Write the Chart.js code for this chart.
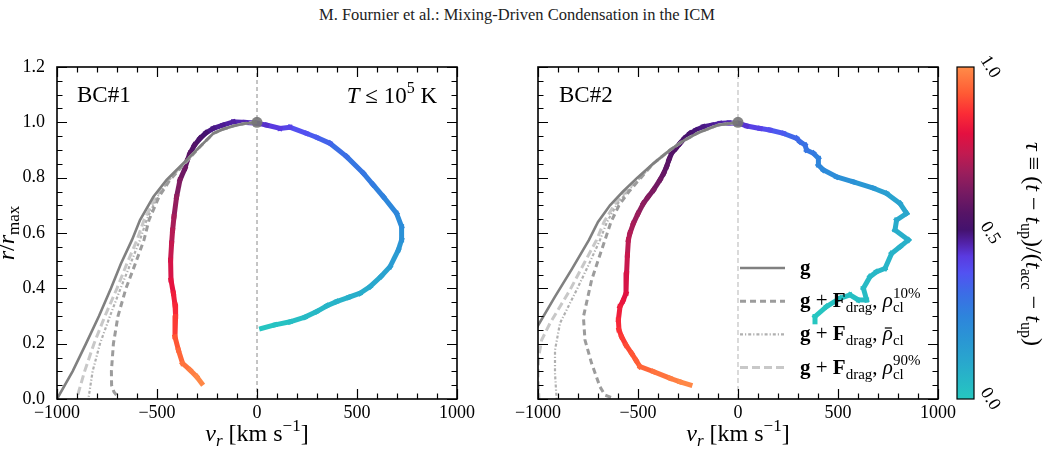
<!DOCTYPE html>
<html><head><meta charset="utf-8">
<script src="https://cdn.jsdelivr.net/npm/chart.js@4.4.1/dist/chart.umd.min.js"></script>
<style>
html,body{margin:0;padding:0;background:#fff;width:1045px;height:452px;overflow:hidden;}
#title{position:absolute;left:0;width:1034px;top:7px;text-align:center;font:16.5px/16.5px "Liberation Serif",serif;color:#222;white-space:nowrap;}
canvas{position:absolute;left:0;top:0;}
</style></head><body>
<div id="title">M. Fournier et al.: Mixing-Driven Condensation in the ICM</div>
<canvas id="c1" width="1045" height="452"></canvas>
<canvas id="c2" width="1045" height="452"></canvas>
<script>
// ---------- tick labels ----------
const xTickValues = [-1000, -500, 0, 500, 1000];
const yTickValues = [0, 0.2, 0.4, 0.6, 0.8, 1.0, 1.2];
const cbarTickValues = [0, 0.5, 1.0];

// ---------- reference marks ----------
const zeroVr = [0, 0];
const zeroR = [0, 1.2];
const apexVr = [0];
const apexR = [1.0];

// ---------- BC#1 trajectory (T <= 1e5 K) ----------
const bc1Vr = [23,90,165,240,298,350,398,460,515,565,620,665,707,723,723,698,632,580,532,448,365,300,248,165,115,48,0,
  -60,-118,-170,-218,-255,-285,-312,-335,-350,-360,-385,-402,-415,-422,-427,-432,-430,-418,-410,-407,-410,-393,-372,-335,-302,-277];
const bc1R = [0.255,0.268,0.279,0.296,0.316,0.337,0.352,0.368,0.382,0.406,0.443,0.478,0.539,0.575,0.623,0.671,0.731,0.775,0.816,0.876,0.924,0.945,0.960,0.982,0.978,0.990,0.997,
  1.0,1.002,0.99,0.978,0.962,0.942,0.918,0.888,0.86,0.834,0.792,0.731,0.659,0.61,0.563,0.502,0.430,0.382,0.34,0.298,0.225,0.177,0.129,0.105,0.081,0.057];
const bc1Tau = [0,0.012,0.025,0.04,0.05,0.06,0.07,0.08,0.09,0.10,0.12,0.14,0.17,0.19,0.21,0.23,0.25,0.27,0.28,0.30,0.33,0.35,0.37,0.40,0.42,0.44,0.45,
  0.46,0.47,0.48,0.49,0.50,0.52,0.54,0.56,0.58,0.59,0.62,0.65,0.69,0.71,0.73,0.76,0.79,0.82,0.84,0.86,0.90,0.93,0.95,0.97,0.985,1.0];

// ---------- BC#2 trajectory ----------
const bc2Vr = [385,385,443,510,560,602,643,627,660,693,735,768,810,852,785,793,843,810,743,677,577,493,427,402,402,377,343,335,310,293,227,160,110,43,5,
  -45,-90,-130,-173,-210,-240,-268,-290,-312,-332,-345,-357,-372,-390,-423,-450,-473,-500,-523,-540,-548,-553,-557,-560,-575,-590,-598,-595,-582,-560,-532,-510,-490,-423,-340,-290,-240];
const bc2R = [0.279,0.298,0.334,0.364,0.376,0.358,0.358,0.400,0.442,0.460,0.472,0.526,0.550,0.575,0.611,0.647,0.671,0.707,0.743,0.762,0.785,0.803,0.828,0.846,0.870,0.888,0.900,0.918,0.930,0.942,0.960,0.972,0.978,0.987,0.996,
  0.998,0.996,0.99,0.984,0.972,0.960,0.942,0.924,0.905,0.888,0.865,0.840,0.815,0.792,0.755,0.73,0.707,0.67,0.635,0.60,0.575,0.52,0.454,0.382,0.355,0.334,0.286,0.25,0.225,0.195,0.165,0.14,0.117,0.099,0.075,0.062,0.051];
const bc2Tau = [0,0.005,0.01,0.02,0.025,0.03,0.035,0.04,0.05,0.055,0.06,0.07,0.075,0.08,0.09,0.10,0.11,0.12,0.14,0.16,0.19,0.21,0.23,0.24,0.25,0.27,0.29,0.30,0.31,0.32,0.35,0.38,0.40,0.43,0.45,
  0.46,0.47,0.48,0.49,0.50,0.51,0.52,0.53,0.54,0.55,0.56,0.57,0.58,0.60,0.62,0.64,0.65,0.67,0.69,0.71,0.72,0.74,0.76,0.79,0.80,0.82,0.84,0.86,0.87,0.89,0.91,0.92,0.93,0.95,0.97,0.985,1.0];

// ---------- panel 1 comparison curves ----------
const p1gVr = [0,-60,-118,-170,-218,-285,-368,-452,-518,-585,-625,-680,-730,-790,-855,-922,-1000];
const p1gR = [1.0,0.996,0.987,0.975,0.96,0.912,0.852,0.792,0.731,0.647,0.575,0.49,0.40,0.30,0.20,0.10,0.0];
const p1g90Vr = [0,-60,-118,-170,-218,-285,-365,-445,-505,-565,-600,-650,-700,-760,-815,-862,-902];
const p1g90R = [1.0,0.996,0.987,0.975,0.96,0.912,0.852,0.792,0.731,0.647,0.575,0.49,0.40,0.30,0.20,0.10,0.0];
const p1gMeanVr = [0,-60,-118,-170,-218,-285,-362,-440,-498,-552,-585,-632,-682,-735,-785,-822,-843];
const p1gMeanR = [1.0,0.996,0.987,0.975,0.96,0.912,0.852,0.792,0.731,0.647,0.575,0.49,0.40,0.30,0.20,0.10,0.0];
const p1g10Vr = [0,-60,-118,-170,-218,-285,-360,-435,-490,-540,-565,-608,-655,-695,-718,-728,-727,-715,-700];
const p1g10R = [1.0,0.996,0.987,0.975,0.96,0.912,0.852,0.792,0.731,0.647,0.575,0.49,0.40,0.30,0.20,0.10,0.05,0.025,0.012];

// ---------- panel 2 comparison curves ----------
const p2gVr = [0,-100,-200,-280,-340,-425,-503,-575,-640,-700,-745,-830,-915,-1000,-1040];
const p2gR = [1.0,0.99,0.962,0.93,0.9,0.85,0.8,0.75,0.7,0.64,0.575,0.47,0.37,0.265,0.215];
const p2g90Vr = [0,-100,-200,-280,-340,-425,-495,-560,-620,-670,-707,-770,-840,-940,-982,-997,-1000,-995];
const p2g90R = [1.0,0.99,0.962,0.93,0.9,0.85,0.8,0.75,0.7,0.64,0.575,0.49,0.394,0.274,0.213,0.15,0.08,0.0];
const p2gMeanVr = [0,-100,-200,-280,-340,-425,-490,-553,-608,-655,-690,-750,-807,-890,-915,-915,-907];
const p2gMeanR = [1.0,0.99,0.962,0.93,0.9,0.85,0.8,0.75,0.7,0.64,0.575,0.48,0.394,0.274,0.177,0.093,0.0];
const p2g10Vr = [0,-100,-200,-280,-340,-425,-485,-545,-595,-635,-665,-700,-732,-773,-765,-732,-690,-665,-623];
const p2g10R = [1.0,0.99,0.962,0.93,0.9,0.85,0.8,0.75,0.7,0.64,0.575,0.5,0.43,0.297,0.213,0.129,0.044,0.014,0.003];

// ---------- colormap ----------
const cmapStops = [
  [0.00,'#26c7c0'],[0.06,'#27b6c7'],[0.12,'#29a5ce'],[0.18,'#2a96d4'],[0.25,'#2e84dc'],
  [0.32,'#3c6ce6'],[0.38,'#5252f2'],[0.43,'#5a3ae0'],[0.47,'#5222a8'],[0.51,'#44126e'],
  [0.56,'#561466'],[0.62,'#761a62'],[0.68,'#9a1e5c'],[0.74,'#c21a50'],[0.80,'#e41040'],
  [0.86,'#fb2c36'],[0.92,'#ff5a34'],[1.00,'#ff8c48']];
function hex2rgb(h){return [1,3,5].map(i=>parseInt(h.substr(i,2),16));}
function cmap(t){
  t = Math.max(0, Math.min(1, t));
  for (let i=1;i<cmapStops.length;i++){
    if (t <= cmapStops[i][0]){
      const [t0,c0]=cmapStops[i-1],[t1,c1]=cmapStops[i];
      const u=(t-t0)/(t1-t0), a=hex2rgb(c0), b=hex2rgb(c1);
      return 'rgb('+a.map((v,k)=>Math.round(v+(b[k]-v)*u)).join(',')+')';
    }
  }
  return cmapStops[cmapStops.length-1][1];
}

const SERIF = "'Liberation Serif','Times New Roman',serif";
function F(size, style, weight){ return (style||'')+' '+(weight||'')+' '+size+'px '+SERIF; }

function rich(ctx, x, y, parts, align, rot){
  ctx.save();
  ctx.translate(x, y);
  if (rot) ctx.rotate(rot);
  ctx.textBaseline='alphabetic'; ctx.textAlign='left';
  let cur=0, last=0; const pl=[];
  for (const p of parts){
    ctx.font=p.f;
    const w=ctx.measureText(p.t).width;
    let px;
    if (p.back){ px=last; cur=Math.max(cur,last+w); }
    else { px=cur; last=cur; cur+=w; }
    pl.push([p,px,w]);
  }
  const off = align==='center' ? -cur/2 : (align==='right' ? -cur : 0);
  for (const [p,px,w] of pl){
    ctx.font=p.f; ctx.fillStyle=p.c||'#000';
    ctx.fillText(p.t, off+px, p.dy||0);
    if (p.bar) ctx.fillRect(off+px+2, (p.dy||0)-p.bar, w-3, 1.2);
  }
  ctx.restore();
}

function pts(vr, r){ return vr.map((v,i)=>({x:v, y:r[i]})); }

const grayStyles = {
  g:    {c:'#808080', w:2.6, d:[]},
  g10:  {c:'#9c9c9c', w:3.0, d:[6,4]},
  gMean:{c:'#b0b0b0', w:2.2, d:[3,2,1.2,2]},
  g90:  {c:'#c8c8c8', w:3.0, d:[8,4]}
};
function grayDs(key, vr, r, order){
  const s=grayStyles[key];
  return {label:key, data:pts(vr,r), showLine:true, pointRadius:0, borderColor:s.c, borderWidth:s.w, borderDash:s.d, fill:false, order:order};
}
function trajDs(vr, r, tau){
  return {label:'traj', data:pts(vr,r), showLine:true, pointRadius:0, borderWidth:5, borderColor:cmap(0.5),
    borderCapStyle:'square', borderJoinStyle:'round', fill:false, order:6,
    segment:{borderColor: c => cmap((tau[c.p0DataIndex]+tau[c.p1DataIndex])/2)}};
}

function framePlugin(){
  return {
    id:'frame',
    afterDatasetsDraw(chart){
      const {ctx, chartArea:a, scales:{x,y}} = chart;
      ctx.save();
      ctx.strokeStyle='#000'; ctx.lineWidth=1.2;
      ctx.beginPath();
      for (let k=-10;k<=10;k++){
        const px=Math.round(x.getPixelForValue(k*100))+0.5;
        const L=(k%5===0)?10:5.5;
        ctx.moveTo(px,a.bottom); ctx.lineTo(px,a.bottom-L);
        ctx.moveTo(px,a.top); ctx.lineTo(px,a.top+L);
      }
      for (let k=0;k<=24;k++){
        const py=Math.round(y.getPixelForValue(k*0.05))+0.5;
        const L=(k%4===0)?10:5.5;
        ctx.moveTo(a.left,py); ctx.lineTo(a.left+L,py);
        ctx.moveTo(a.right,py); ctx.lineTo(a.right-L,py);
      }
      ctx.stroke();
      ctx.lineWidth=1.6;
      ctx.strokeRect(a.left,a.top,a.right-a.left,a.bottom-a.top);
      ctx.restore();
    }
  };
}

function makeChart(id, datasets, yWidth, padRight, showY, extra){
  return new Chart(document.getElementById(id), {
    type:'scatter',
    data:{datasets:datasets},
    options:{
      responsive:false, animation:false, devicePixelRatio:1,
      layout:{padding:{left:0, top:67, right:padRight, bottom:0}},
      plugins:{legend:{display:false}, tooltip:{enabled:false}},
      scales:{
        x:{type:'linear', min:-1000, max:1000,
           afterBuildTicks:s=>{s.ticks=xTickValues.map(v=>({value:v}));},
           afterFit:s=>{s.height=53;},
           grid:{display:false}, border:{display:false},
           ticks:{autoSkip:false, maxRotation:0, padding:-5, color:'#000',
             font:{family:SERIF, size:18},
             callback:v=> v<0 ? '\u2212'+Math.abs(v) : String(v)}},
        y:{type:'linear', min:0, max:1.2,
           afterBuildTicks:s=>{s.ticks=yTickValues.map(v=>({value:v}));},
           afterFit:s=>{s.width=yWidth;},
           grid:{display:false}, border:{display:false},
           ticks:{display:showY, padding:4, color:'#000',
             font:{family:SERIF, size:18},
             callback:v=>Number(v).toFixed(1)}}
      }
    },
    plugins:[framePlugin(), extra]
  });
}

function xLabel(ctx, cx){
  rich(ctx, cx, 441, [
    {t:'v', f:F(24,'italic')},
    {t:'r', f:F(17,'italic'), dy:5},
    {t:' [km s', f:F(24)},
    {t:'\u22121', f:F(17), dy:-10},
    {t:']', f:F(24)}], 'center');
}

// ---------- panel 1 ----------
const ds1 = [
  {label:'zero', data:pts(zeroVr,zeroR), showLine:true, pointRadius:0, borderColor:'#8a8a8a', borderWidth:1, borderDash:[4,3], order:9},
  trajDs(bc1Vr, bc1R, bc1Tau),
  grayDs('g90', p1g90Vr, p1g90R, 5),
  grayDs('gMean', p1gMeanVr, p1gMeanR, 4),
  grayDs('g10', p1g10Vr, p1g10R, 3),
  grayDs('g', p1gVr, p1gR, 2),
  {label:'apex', data:pts(apexVr,apexR), showLine:false, pointRadius:5.5, backgroundColor:'rgba(118,118,118,0.9)', borderWidth:0, order:0}
];
makeChart('c1', ds1, 57, 588, true, {
  id:'text1',
  afterDraw(chart){
    const ctx=chart.ctx;
    rich(ctx, 77, 102, [{t:'BC#1', f:F(23)}], 'left');
    rich(ctx, 437, 103, [
      {t:'T', f:F(23,'italic')},
      {t:' \u2264 ', f:F(23)},
      {t:'10', f:F(23)},
      {t:'5', f:F(16), dy:-10},
      {t:' K', f:F(23)}], 'right');
    xLabel(ctx, 257);
    rich(ctx, 14, 233, [
      {t:'r', f:F(24,'italic')},
      {t:'/', f:F(24)},
      {t:'r', f:F(24,'italic')},
      {t:'max', f:F(17), dy:5}], 'center', -Math.PI/2);
  }
});

// ---------- panel 2 ----------
const ds2 = [
  {label:'zero', data:pts(zeroVr,zeroR), showLine:true, pointRadius:0, borderColor:'#c6c6c6', borderWidth:1.3, borderDash:[5,3], order:9},
  trajDs(bc2Vr, bc2R, bc2Tau),
  grayDs('g90', p2g90Vr, p2g90R, 5),
  grayDs('gMean', p2gMeanVr, p2gMeanR, 4),
  grayDs('g10', p2g10Vr, p2g10R, 3),
  grayDs('g', p2gVr, p2gR, 2),
  {label:'apex', data:pts(apexVr,apexR), showLine:false, pointRadius:5.5, backgroundColor:'rgba(118,118,118,0.9)', borderWidth:0, order:0}
];
const legendRows = [
  {key:'g', parts:[{t:'g', f:F(21,'','bold')}]},
  {key:'g10', parts:[{t:'g', f:F(21,'','bold')},{t:' + ', f:F(21)},{t:'F', f:F(21,'','bold')},{t:'drag', f:F(15), dy:5},{t:', ', f:F(21)},{t:'\u03c1', f:F(21,'italic')},{t:'cl', f:F(15), dy:5},{t:'10%', f:F(15), dy:-9, back:true}]},
  {key:'gMean', parts:[{t:'g', f:F(21,'','bold')},{t:' + ', f:F(21)},{t:'F', f:F(21,'','bold')},{t:'drag', f:F(15), dy:5},{t:', ', f:F(21)},{t:'\u03c1', f:F(21,'italic'), bar:13},{t:'cl', f:F(15), dy:5}]},
  {key:'g90', parts:[{t:'g', f:F(21,'','bold')},{t:' + ', f:F(21)},{t:'F', f:F(21,'','bold')},{t:'drag', f:F(15), dy:5},{t:', ', f:F(21)},{t:'\u03c1', f:F(21,'italic')},{t:'cl', f:F(15), dy:5},{t:'90%', f:F(15), dy:-9, back:true}]}
];
makeChart('c2', ds2, 538, 107, false, {
  id:'text2',
  afterDraw(chart){
    const ctx=chart.ctx, a=chart.chartArea;
    rich(ctx, 559, 102, [{t:'BC#2', f:F(23)}], 'left');
    xLabel(ctx, 738);
    // legend
    legendRows.forEach((row,i)=>{
      const ly = 268 + i*33.2;
      const s = grayStyles[row.key];
      ctx.save();
      ctx.strokeStyle=s.c; ctx.lineWidth=s.w; ctx.setLineDash(s.d);
      ctx.beginPath(); ctx.moveTo(740, ly); ctx.lineTo(785, ly); ctx.stroke();
      ctx.restore();
      rich(ctx, 800, ly+6, row.parts, 'left');
    });
    // colorbar
    const cx0=957, cx1=974;
    const g=ctx.createLinearGradient(0,a.bottom,0,a.top);
    cmapStops.forEach(([t,c])=>g.addColorStop(t,c));
    ctx.save();
    ctx.fillStyle=g; ctx.fillRect(cx0,a.top,cx1-cx0,a.bottom-a.top);
    ctx.strokeStyle='#000'; ctx.lineWidth=1.2;
    ctx.strokeRect(cx0,a.top,cx1-cx0,a.bottom-a.top);
    ctx.restore();
    cbarTickValues.forEach(v=>{
      const py = a.bottom - v*(a.bottom-a.top);
      ctx.save();
      ctx.translate(990, py); ctx.rotate(1.0);
      ctx.font=F(18); ctx.fillStyle='#000'; ctx.textAlign='center'; ctx.textBaseline='middle';
      ctx.fillText(v.toFixed(1), 0, 0);
      ctx.restore();
    });
    rich(ctx, 1026, 244, [
      {t:'\u03c4', f:F(24,'italic')},
      {t:' \u2261 (', f:F(24)},
      {t:'t', f:F(24,'italic')},
      {t:' \u2212 ', f:F(24)},
      {t:'t', f:F(24,'italic')},
      {t:'up', f:F(16), dy:5},
      {t:')/(', f:F(24)},
      {t:'t', f:F(24,'italic')},
      {t:'acc', f:F(16), dy:5},
      {t:' \u2212 ', f:F(24)},
      {t:'t', f:F(24,'italic')},
      {t:'up', f:F(16), dy:5},
      {t:')', f:F(24)}], 'center', Math.PI/2);
  }
});
</script>
</body></html>
